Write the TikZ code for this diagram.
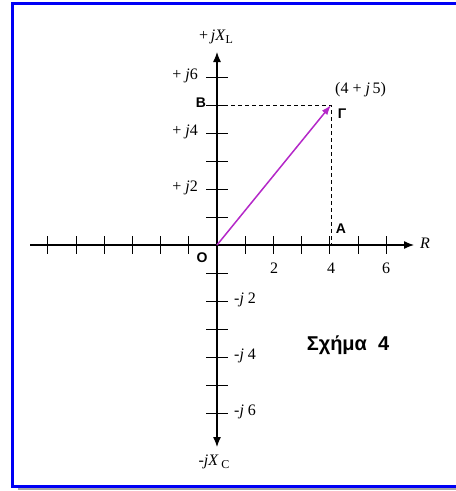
\documentclass[tikz,border=0pt]{standalone}
\usepackage{fontspec}
\setmainfont{Liberation Serif}
\newfontfamily\lsans{Liberation Sans}
\usetikzlibrary{arrows.meta,calc}
\definecolor{frameblue}{RGB}{0,0,245}
\definecolor{vecmag}{RGB}{180,40,200}
\newcommand{\sbs}[1]{\raisebox{-3pt}{\fontsize{12}{13}\selectfont #1}}
\tikzset{
  axisline/.style={line width=1.2pt,black,-{Latex[length=10pt,width=8pt]}},
  tickmark/.style={line width=1pt,black},
  lbl/.style={font=\fontsize{16}{18}\selectfont,inner sep=0pt},
  ptlbl/.style={font=\lsans\bfseries\fontsize{14}{16}\selectfont,inner sep=0pt},
  guide/.style={dashed,line width=0.9pt,dash pattern=on 4pt off 3pt},
}
\begin{document}
\begin{tikzpicture}[x=1pt,y=-1pt]
\useasboundingbox (0,0) rectangle (456,491);
% frame
\draw[line width=2pt,gray!70] (18,489) -- (456,489);
\draw[line width=3pt,frameblue] (456,3) -- (12,3) -- (12,486) -- (456,486);
% coordinates
\coordinate (O) at (217,245);
\coordinate (xl) at (30,245);
\coordinate (xr) at (414,245);
\coordinate (yt) at (217,52);
\coordinate (yb) at (217,447);
\coordinate (P) at (331,105);
\coordinate (Bp) at (217,105);
\coordinate (Ap) at (331,245);
% axes
\draw[line width=1.2pt] (xl) -- (O);
\draw[axisline] (O) -- (xr);
\draw[axisline] (O) -- (yt);
\draw[axisline] (O) -- (yb);
% ticks
\foreach \i in {-6,...,-1,1,2,3,4,5,6}{
  \draw[tickmark] ($(O)+(\i*28.2,-9)$) -- ($(O)+(\i*28.2,9)$);
}
\foreach \i in {-6,...,-1,1,2,3,4,5,6}{
  \draw[tickmark] ($(O)+(-11,\i*28)$) -- ($(O)+(11,\i*28)$);
}
% guides
\draw[guide] (Bp) -- (P) -- (Ap);
% vector
\draw[line width=1.5pt,vecmag,-{Latex[length=10pt,width=7pt]}] (O) -- (P);
% labels
\node[lbl] (lxl) at (216,37) {+\,\textit{jX}\sbs{L}};
\node[lbl] (lxc) at (214,462) {-\textit{jX}\,\sbs{C}};
\node[lbl,anchor=west] (lr) at (420,243) {\textit{R}};
\node[lbl,anchor=east] (lp6) at (198,76) {+\ \textit{j}6};
\node[lbl,anchor=east] (lp4) at (198,132) {+\ \textit{j}4};
\node[lbl,anchor=east] (lp2) at (198,188) {+\ \textit{j}2};
\node[lbl,anchor=west] (lm2) at (234,300) {-\textit{j}\ 2};
\node[lbl,anchor=west] (lm4) at (234,356) {-\textit{j}\ 4};
\node[lbl,anchor=west] (lm6) at (234,412) {-\textit{j}\ 6};
\node[lbl] (l2) at (274,268) {2};
\node[lbl] (l4) at (331,268) {4};
\node[lbl] (l6) at (386,268) {6};
\node[lbl,anchor=west] (lpt) at (335,90) {(4 + \textit{j}\,5)};
\node[ptlbl] (nO) at (202,258) {O};
\node[ptlbl] (nA) at (341,229) {A};
\node[ptlbl] (nB) at (201,103) {B};
\node[ptlbl] (nG) at (342,114) {Γ};
\node[font=\lsans\bfseries\fontsize{20}{22}\selectfont,inner sep=0pt] (fig) at (348,345) {Σχήμα\ \ 4};
\end{tikzpicture}
\end{document}
